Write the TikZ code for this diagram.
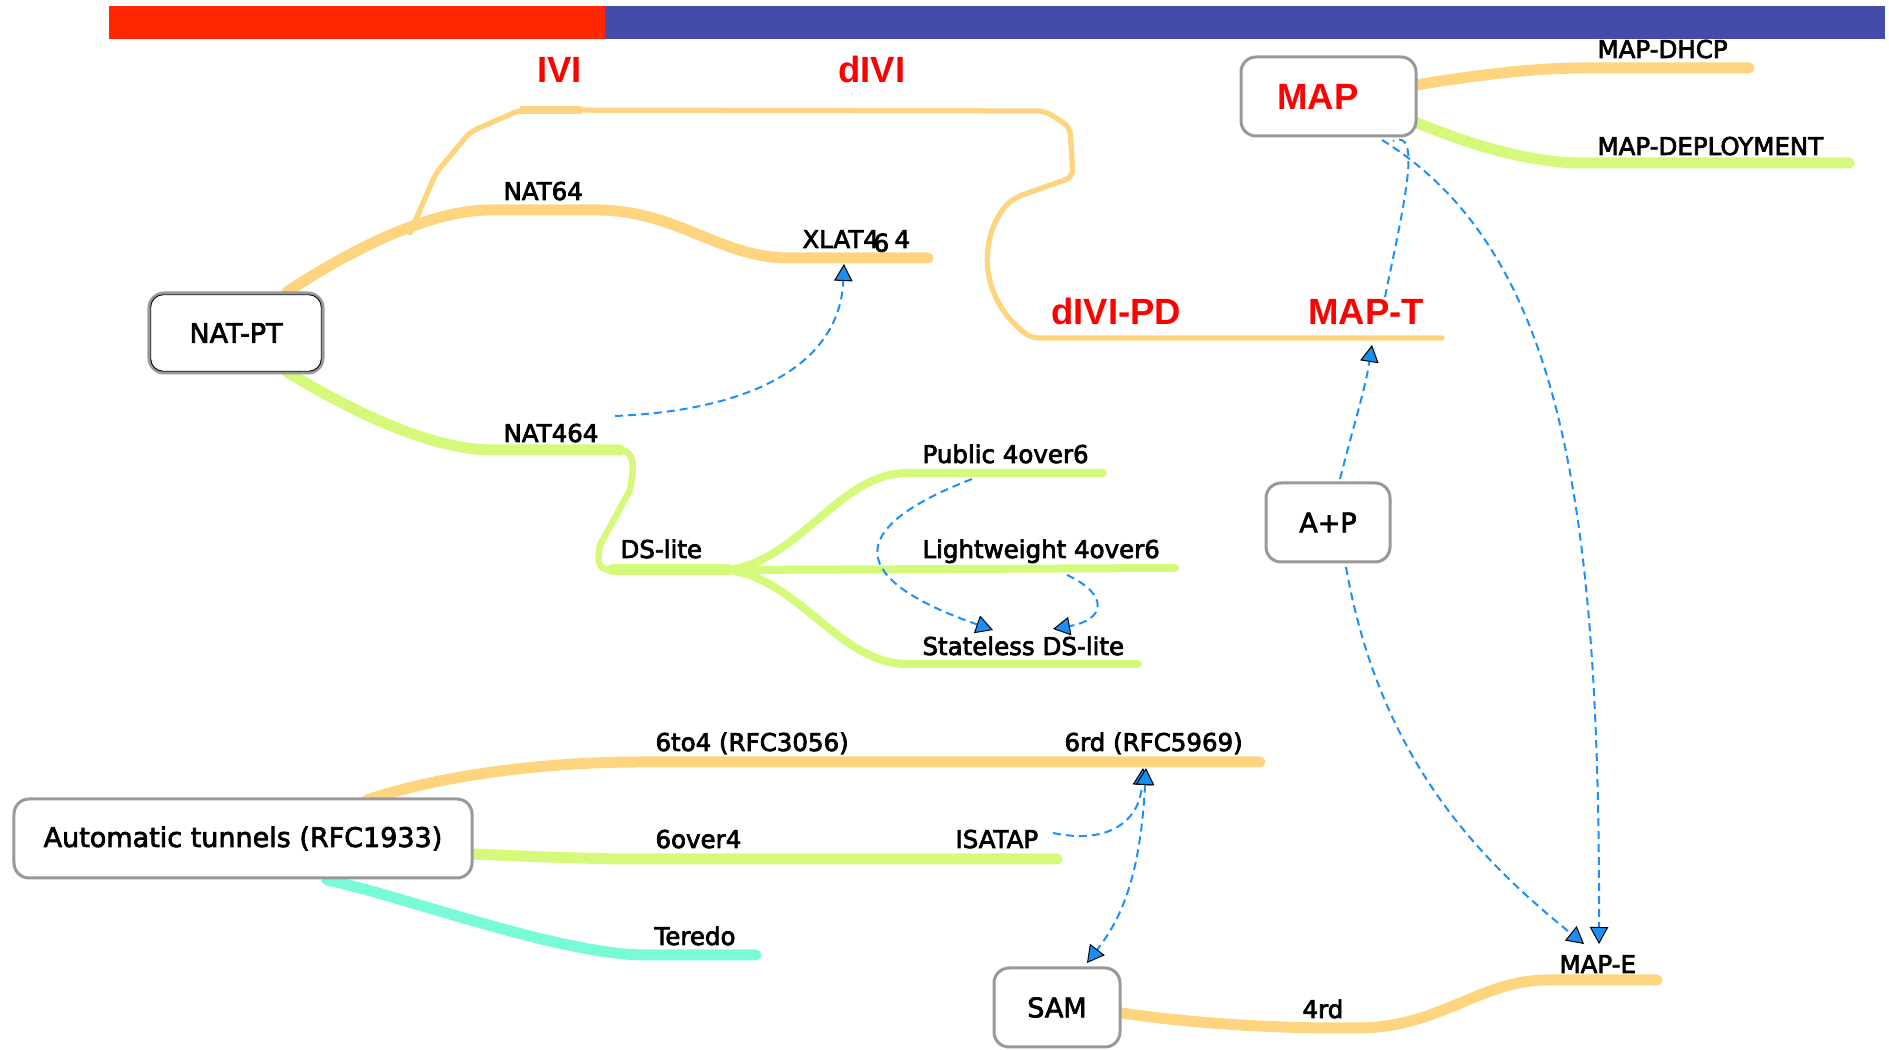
\documentclass[tikz,border=0pt]{standalone}
\usepackage{fontspec}
\setmainfont{DejaVu Sans}
\newfontfamily\arialf{Liberation Sans}
\newcommand{\heavytext}[1]{\special{pdf:literal direct 2 Tr 0.28 w}#1\special{pdf:literal direct 0 Tr}}
\usetikzlibrary{arrows.meta}
\definecolor{barred}{HTML}{FF2600}
\definecolor{barblue}{HTML}{444BA9}
\definecolor{orng}{HTML}{FFD47F}
\definecolor{grn}{HTML}{D5F97A}
\definecolor{aqua}{HTML}{78FBD6}
\definecolor{linkblue}{HTML}{1A8FFF}
\definecolor{tipblue}{HTML}{1A8FEF}
\definecolor{boxgray}{HTML}{999999}
\definecolor{redtxt}{HTML}{FF0000}
\tikzset{
  BlueTri/.tip={Triangle[length=6.8pt,width=7.4pt,fill=tipblue,color=black,line width=0.4pt]},
  rootbox/.style={draw=boxgray, line width=1.2pt, rounded corners=6pt, fill=white, inner sep=0pt,
    font=\fontsize{10.8}{13}\selectfont},
  lbl/.style={anchor=base west, inner sep=0pt, font=\fontsize{9.8}{12}\selectfont},
  redlbl/.style={anchor=base west, inner sep=0pt, text=redtxt, font=\arialf\bfseries\fontsize{14.6}{17}\selectfont},
  branch/.style={line width=4.4pt, line cap=round, line join=round},
  subbranch/.style={line width=3.2pt, line cap=round, line join=round},
  thinbranch/.style={line width=2.1pt, line cap=round, line join=round},
  link/.style={draw=linkblue, line width=0.8pt, dash pattern=on 3.2pt off 2pt},
}
\begin{document}
\begin{tikzpicture}[x=0.4pt,y=-0.4pt]
\useasboundingbox (0,0) rectangle (1889,1050);
% top bars
\fill[barred] (108.7,6) rectangle (604.7,38.7);
\fill[barblue] (604.7,6) rectangle (1885,38.7);

% ---------- branches ----------
% IVI / dIVI / dIVI-PD / MAP-T path
\draw[orng, thinbranch, rounded corners=3pt] (410,233) -- (436,173) -- (470,132) -- (520,110) -- (1045,111) -- (1070,127) -- (1073,177) -- (1014,198)
  .. controls (985,225) and (970,290) .. (1031,338) -- (1442,338);
\draw[orng, line width=3.2pt] (520,110) -- (581,110);
% NAT64 / XLAT464
\draw[orng, branch] (287,292) .. controls (350,250) and (430,210) .. (490,210) -- (600,210)
  .. controls (680,212) and (720,258) .. (790,258) -- (928,258);
% NAT464 / DS-lite
\draw[grn, branch] (287,372) .. controls (350,410) and (430,450) .. (493,450) -- (620,450);
\draw[grn, line width=2.6pt, line cap=round, line join=round] (620,450) .. controls (636,451) and (634,468) .. (630,490)
  -- (600,545) .. controls (596,566) and (600,570) .. (614,570);
\draw[grn, branch] (612,570) -- (729,570);
\draw[grn, subbranch] (729,570) .. controls (800,560) and (840,473) .. (907,473) -- (1103,473);
\draw[grn, subbranch] (729,570) -- (1175,568);
\draw[grn, subbranch] (729,570) .. controls (800,580) and (840,664) .. (907,664) -- (1138,664);
% automatic tunnels
\draw[orng, branch] (367,800) .. controls (450,772) and (560,762) .. (638,762) -- (1260,762);
\draw[grn, branch] (474,854) .. controls (540,857) and (600,859) .. (638,859) -- (1057,859);
\draw[aqua, branch] (327,880) .. controls (400,895) and (560,955) .. (646,955) -- (756,955);
% MAP
\draw[orng, branch] (1410,86) .. controls (1470,76) and (1530,68) .. (1583,68) -- (1749,68);
\draw[grn, branch] (1410,120) .. controls (1470,145) and (1530,163) .. (1583,163) -- (1849,163);
% SAM / 4rd / MAP-E
\draw[orng, branch] (1115,1012) .. controls (1180,1022) and (1260,1028) .. (1340,1028) -- (1357,1028)
  .. controls (1440,1028) and (1480,980) .. (1547,980) -- (1657,980);

% ---------- root boxes ----------
\node[rootbox, minimum width=69.6pt, minimum height=32pt] (natpt) at (236,333) {\heavytext{NAT-PT}};
\draw[black, line width=0.35pt, rounded corners=5pt] ([shift={(1.3pt,-1.3pt)}]natpt.north west) rectangle ([shift={(-1.3pt,1.3pt)}]natpt.south east);
\node[rootbox, minimum width=70pt, minimum height=31.6pt, text=redtxt, font=\arialf\bfseries\fontsize{14.6}{17}\selectfont] (map) at (1328.5,96.5) {\raisebox{-1.3pt}{MAP}\hspace*{8.4pt}};
\node[rootbox, minimum width=49.6pt, minimum height=31.6pt] (ap) at (1328,522.5) {\heavytext{A+P}};
\node[rootbox, minimum width=183.2pt, minimum height=31.6pt] (auto) at (243,838.5) {\heavytext{Automatic tunnels (RFC1933)}};
\node[rootbox, minimum width=50.4pt, minimum height=31.6pt] (sam) at (1057,1007.5) {\heavytext{SAM}};

% ---------- labels ----------
\node[redlbl] (ivi) at (537,83) {IVI};
\node[redlbl] (divi) at (838,83) {dIVI};
\node[redlbl] (divipd) at (1051,325) {dIVI-PD};
\node[redlbl] (mapt) at (1308,325) {MAP-T};
\node[lbl] (nat64) at (503,200) {\heavytext{NAT64}};
\node[lbl] (xlat) at (802,248) {\heavytext{XLAT4\kern-0.22em\raisebox{-0.15em}{6}\kern0.22em4}};
\node[lbl] (nat464) at (503,442) {\heavytext{NAT464}};
\node[lbl] (dslite) at (620,558) {\heavytext{DS-lite}};
\node[lbl] (pub) at (922,463) {\heavytext{Public 4over6}};
\node[lbl] (lw) at (922,558) {\heavytext{Lightweight 4over6}};
\node[lbl] (sdl) at (922,655) {\heavytext{Stateless DS-lite}};
\node[lbl] (sixto4) at (655,751) {\heavytext{6to4 (RFC3056)}};
\node[lbl] (sixrd) at (1064,751) {\heavytext{6rd (RFC5969)}};
\node[lbl] (sixover4) at (655,848) {\heavytext{6over4}};
\node[lbl] (isatap) at (955,848) {\heavytext{ISATAP}};
\node[lbl] (teredo) at (654,945) {\heavytext{Teredo}};
\node[lbl] (fourrd) at (1302,1018) {\heavytext{4rd}};
\node[lbl] (mape) at (1559,973) {\heavytext{MAP-E}};
\node[lbl] (mapdhcp) at (1597,58) {\heavytext{MAP-DHCP}};
\node[lbl] (mapdep) at (1597,155) {\heavytext{MAP-DEPLOYMENT}};

% ---------- link end points ----------
\coordinate (n464out) at (615,416);
\coordinate (xlatin) at (844,264);
\coordinate (pubout) at (972,479);
\coordinate (sdlinA) at (993,630);
\coordinate (lwout) at (1067,575);
\coordinate (sdlinB) at (1053,629);
\coordinate (isaout) at (1053,833);
\coordinate (rdinA) at (1143,768);
\coordinate (rdinB) at (1146,768);
\coordinate (samin) at (1087,963);
\coordinate (apout) at (1340,479);
\coordinate (maptin) at (1372,345);
\coordinate (apoutB) at (1346,567);
\coordinate (mapeinA) at (1584,944);
\coordinate (mapout) at (1382,140);
\coordinate (mapeinB) at (1599,944);
\coordinate (maptout) at (1385,297);
\coordinate (mapin) at (1393,141);

% ---------- dashed links ----------
\draw[link, -BlueTri] (n464out) .. controls (760,410) and (840,360) .. (xlatin);
\draw[link, -BlueTri] (pubout) .. controls (840,530) and (850,580) .. (sdlinA);
\draw[link, -BlueTri] (lwout) .. controls (1110,595) and (1105,620) .. (sdlinB);
\draw[link, -BlueTri] (isaout) .. controls (1110,845) and (1140,820) .. (rdinA);
\draw[link, BlueTri-BlueTri] (rdinB) .. controls (1140,880) and (1120,920) .. (samin);
\draw[link, -BlueTri] (apout) .. controls (1355,420) and (1365,390) .. (maptin);
\draw[link, -BlueTri] (apoutB) .. controls (1380,760) and (1480,860) .. (mapeinA);
\draw[link, -BlueTri] (mapout) .. controls (1560,250) and (1600,500) .. (mapeinB);
\draw[link] (maptout) .. controls (1405,200) and (1422,128) .. (mapin);
\end{tikzpicture}
\end{document}
